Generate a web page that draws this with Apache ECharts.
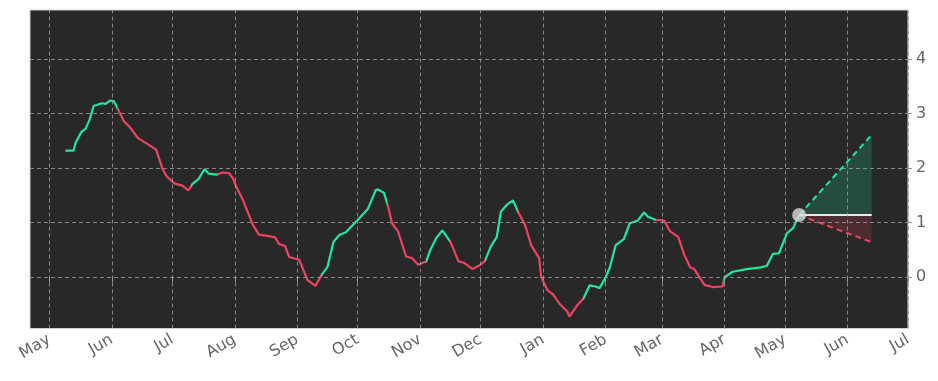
<!DOCTYPE html>
<html><head><meta charset="utf-8">
<script src="https://cdn.jsdelivr.net/npm/echarts@6/dist/echarts.min.js"></script>
<style>html,body{margin:0;padding:0;background:#fff}#c{width:938px;height:381px}</style>
</head><body><div id="c"></div>
<script>
const dates = ['2022-05-09','2022-05-13','2022-05-14','2022-05-17','2022-05-19','2022-05-21','2022-05-23','2022-05-27','2022-05-29','2022-05-31',
'2022-06-02','2022-06-03','2022-06-07','2022-06-10','2022-06-14','2022-06-18','2022-06-23','2022-06-26','2022-06-28','2022-07-02',
'2022-07-06','2022-07-09','2022-07-11','2022-07-14','2022-07-17','2022-07-19','2022-07-23','2022-07-26','2022-07-29','2022-07-31',
'2022-08-02','2022-08-05','2022-08-10','2022-08-13','2022-08-17','2022-08-21','2022-08-23','2022-08-26','2022-08-28','2022-09-02',
'2022-09-06','2022-09-10','2022-09-13','2022-09-16','2022-09-19','2022-09-22','2022-09-25','2022-09-27','2022-10-01','2022-10-06',
'2022-10-10','2022-10-11','2022-10-14','2022-10-16','2022-10-18','2022-10-21','2022-10-25','2022-10-28','2022-10-31','2022-11-04',
'2022-11-06','2022-11-09','2022-11-12','2022-11-16','2022-11-17','2022-11-20','2022-11-23','2022-11-27','2022-11-30','2022-12-03',
'2022-12-06','2022-12-09','2022-12-11','2022-12-14','2022-12-17','2022-12-20','2022-12-23','2022-12-26','2022-12-30','2022-12-31',
'2023-01-03','2023-01-06','2023-01-09','2023-01-13','2023-01-14','2023-01-18','2023-01-21','2023-01-24','2023-01-27','2023-01-29',
'2023-02-01','2023-02-03','2023-02-06','2023-02-10','2023-02-13','2023-02-17','2023-02-20','2023-02-22','2023-02-26','2023-03-02',
'2023-03-05','2023-03-09','2023-03-12','2023-03-15','2023-03-17','2023-03-22','2023-03-26','2023-03-31','2023-04-01','2023-04-05',
'2023-04-12','2023-04-19','2023-04-22','2023-04-25','2023-04-28','2023-05-02','2023-05-05','2023-05-08'];
const values = [2.32,2.32,2.46,2.67,2.72,2.89,3.14,3.19,3.18,3.24,
3.23,3.16,2.86,2.75,2.55,2.46,2.34,2.00,1.86,1.72,
1.68,1.59,1.71,1.80,1.98,1.90,1.88,1.92,1.91,1.82,
1.64,1.42,0.96,0.78,0.76,0.73,0.61,0.57,0.37,0.32,
-0.05,-0.16,0.04,0.19,0.65,0.78,0.82,0.90,1.05,1.25,
1.60,1.61,1.55,1.31,0.99,0.84,0.38,0.35,0.23,0.29,
0.50,0.72,0.86,0.65,0.56,0.29,0.26,0.15,0.21,0.29,
0.56,0.74,1.20,1.33,1.41,1.17,0.96,0.59,0.35,0.01,
-0.23,-0.32,-0.48,-0.63,-0.72,-0.51,-0.39,-0.15,-0.17,-0.20,
0.00,0.17,0.59,0.70,0.99,1.04,1.19,1.11,1.05,1.04,
0.84,0.74,0.41,0.18,0.15,-0.14,-0.18,-0.17,0.00,0.10,
0.15,0.18,0.21,0.43,0.44,0.81,0.90,1.14];
// dates where the trend colour flips (first segment rising)
const trendBreaks = ['2022-06-03T16:00:00Z','2022-07-10T10:00:00Z','2022-07-23T16:00:00Z','2022-09-12T14:00:00Z','2022-10-15T16:00:00Z',
'2022-11-04T00:00:00Z','2022-11-15T20:00:00Z','2022-12-03T04:00:00Z','2022-12-19T12:00:00Z','2023-01-20T20:00:00Z',
'2023-02-26T00:00:00Z','2023-03-31T16:00:00Z'];
const monthTicks = ['2022-05-01','2022-06-01','2022-07-01','2022-08-01','2022-09-01','2022-10-01','2022-11-01','2022-12-01',
'2023-01-01','2023-02-01','2023-03-01','2023-04-01','2023-05-01','2023-06-01','2023-07-01'];
const monthLabels = ['May','Jun','Jul','Aug','Sep','Oct','Nov','Dec','Jan','Feb','Mar','Apr','May','Jun','Jul'];
const yTicks = [0,1,2,3,4];
const forecastDates = ['2023-05-08','2023-06-13'];
const forecastUpper = [1.14, 2.61];
const forecastLower = [1.14, 0.64];
const forecastMid = [1.14, 1.14];
const xRange = ['2022-04-21T10:00:00Z','2023-07-01'];
const yRange = [-0.94, 4.9];

const UP = '#1fe89c', DOWN = '#ee4262';
const t = s => Date.parse(s);
const bt = trendBreaks.map(t);
const pieces = [{lt: bt[0], color: UP}];
for (let i = 0; i < bt.length - 1; i++) pieces.push({gte: bt[i], lt: bt[i+1], color: i % 2 === 0 ? DOWN : UP});
pieces.push({gte: bt[bt.length-1], color: (bt.length - 1) % 2 === 0 ? DOWN : UP});

const tickMs = monthTicks.map(t);
const labelStyle = {color: '#666', fontSize: 16, fontFamily: 'DejaVu Sans'};
const chart = echarts.init(document.getElementById('c'));
chart.setOption({
  animation: false,
  backgroundColor: '#fff',
  grid: {left: 30, right: 30, top: 10, bottom: 52.5, show: true, backgroundColor: '#282828', borderColor: '#d0d0d0', borderWidth: 1},
  xAxis: {
    type: 'value', min: t(xRange[0]), max: t(xRange[1]), scale: true,
    axisLine: {show: false},
    splitLine: {show: false},
    axisTick: {show: true, length: 5, customValues: tickMs, lineStyle: {color: '#999'}},
    axisLabel: Object.assign({rotate: 30, margin: 10, customValues: tickMs, hideOverlap: false,
      formatter: v => { const i = tickMs.indexOf(v); return i >= 0 ? monthLabels[i] : ''; }}, labelStyle)
  },
  yAxis: {
    type: 'value', position: 'right', min: yRange[0], max: yRange[1],
    axisLine: {show: false},
    splitLine: {show: false},
    axisTick: {show: true, length: 4, customValues: yTicks, lineStyle: {color: '#999'}},
    axisLabel: Object.assign({margin: 8, customValues: yTicks}, labelStyle)
  },
  visualMap: {type: 'piecewise', show: false, dimension: 0, seriesIndex: 1, pieces: pieces},
  series: [
    {type: 'line', z: 1, data: [], silent: true,
      markLine: {silent: true, symbol: ['none','none'], label: {show: false},
        lineStyle: {color: '#9e9e9e', type: [4,3], width: 0.8},
        data: tickMs.map(v => ({xAxis: v})).concat(yTicks.map(v => ({yAxis: v})))}},
    {type: 'line', z: 3, showSymbol: false, lineStyle: {width: 2.2},
      data: dates.map((d, i) => [t(d), values[i]])},
    {type: 'line', z: 2, showSymbol: false, lineStyle: {color: UP, width: 2, type: [6,4]},
      areaStyle: {origin: forecastMid[0], color: 'rgba(31,232,156,0.27)'},
      data: forecastDates.map((d, i) => [t(d), forecastUpper[i]])},
    {type: 'line', z: 2, showSymbol: false, lineStyle: {color: DOWN, width: 2, type: [6,4]},
      areaStyle: {origin: forecastMid[0], color: 'rgba(238,66,98,0.27)'},
      data: forecastDates.map((d, i) => [t(d), forecastLower[i]])},
    {type: 'line', z: 3, showSymbol: false, lineStyle: {color: '#e8e8e8', width: 2},
      data: forecastDates.map((d, i) => [t(d), forecastMid[i]])},
    {type: 'scatter', z: 5, symbolSize: 14, itemStyle: {color: '#d8d8d8'},
      data: [[t(forecastDates[0]), forecastMid[0]]]}
  ]
});
</script></body></html>
